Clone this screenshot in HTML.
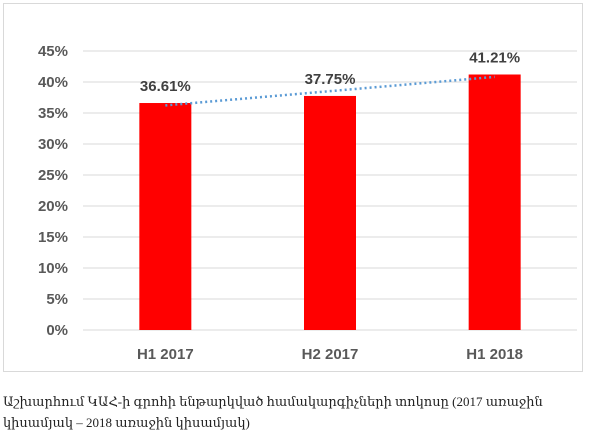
<!DOCTYPE html>
<html><head><meta charset="utf-8"><style>
body{margin:0;background:#fff;width:600px;height:440px;overflow:hidden}
svg text{font-family:"Liberation Sans",sans-serif}
.cap{position:absolute;left:3px;top:391px;width:590px;font-family:"Liberation Serif","DejaVu Serif",serif;font-size:13px;line-height:21px;color:#222}
</style></head><body>
<svg width="600" height="440" style="position:absolute;left:0;top:0">
<rect x="3.5" y="3.5" width="579" height="368" fill="#fff" stroke="#d9d9d9"/>
<g id="grid"></g><g id="bars"></g><g id="trend"></g><g id="labels"></g>
</svg>
<div class="cap">Աշխարհում ԿԱՀ-ի գրոհի ենթարկված համակարգիչների տոկոսը (2017 առաջին կիսամյակ – 2018 առաջին կիսամյակ)</div>
<script>
const categories=["H1 2017","H2 2017","H1 2018"];
const values=[36.61,37.75,41.21];
const valueLabels=["36.61%","37.75%","41.21%"];
const ticks=[0,5,10,15,20,25,30,35,40,45];
const NS="http://www.w3.org/2000/svg";
const x0=83,x1=577,y0=330,ppu=6.2,bw=52;
const step=(x1-x0)/categories.length;
const X=i=>x0+step*(i+0.5), Y=v=>y0-v*ppu;
function mk(t,a,p,txt){const e=document.createElementNS(NS,t);for(const k in a)e.setAttribute(k,a[k]);if(txt!=null)e.textContent=txt;p.appendChild(e);return e;}
const g=document.getElementById('grid');
ticks.forEach(t=>{
 const l=mk('line',{x1:x0,x2:x1,y1:Y(t),y2:Y(t),stroke:'#d9d9d9','stroke-width':1},g);
 
 
 const tx=mk('text',{x:68,y:Y(t)+5,'text-anchor':'end','font-size':15,'font-weight':'bold',fill:'#595959'},g,t+'%');
 
 
});
const b=document.getElementById('bars'),lb=document.getElementById('labels');
values.forEach((v,i)=>{
 const r=mk('rect',{x:X(i)-bw/2,y:Y(v),width:bw,height:v*ppu,fill:'#ff0000'},b);
 
 
 const t=mk('text',{x:X(i),y:Y(v)-12,'text-anchor':'middle','font-size':15,'font-weight':'bold',fill:'#404040'},lb,valueLabels[i]);
 
 
 const c=mk('text',{x:X(i),y:359,'text-anchor':'middle','font-size':15,'font-weight':'bold',fill:'#595959'},lb,categories[i]);
 
 
});
const n=values.length,mx=(n-1)/2,my=values.reduce((a,c)=>a+c,0)/n;
let num=0,den=0;values.forEach((v,i)=>{num+=(i-mx)*(v-my);den+=(i-mx)*(i-mx);});
const sl=num/den,ic=my-sl*mx;
const tl=mk('line',{x1:X(0),y1:Y(ic),x2:X(n-1),y2:Y(ic+sl*(n-1)),stroke:'#5b9bd5','stroke-width':2.5,'stroke-dasharray':'2 3'},document.getElementById('trend'));


</script>
</body></html>
